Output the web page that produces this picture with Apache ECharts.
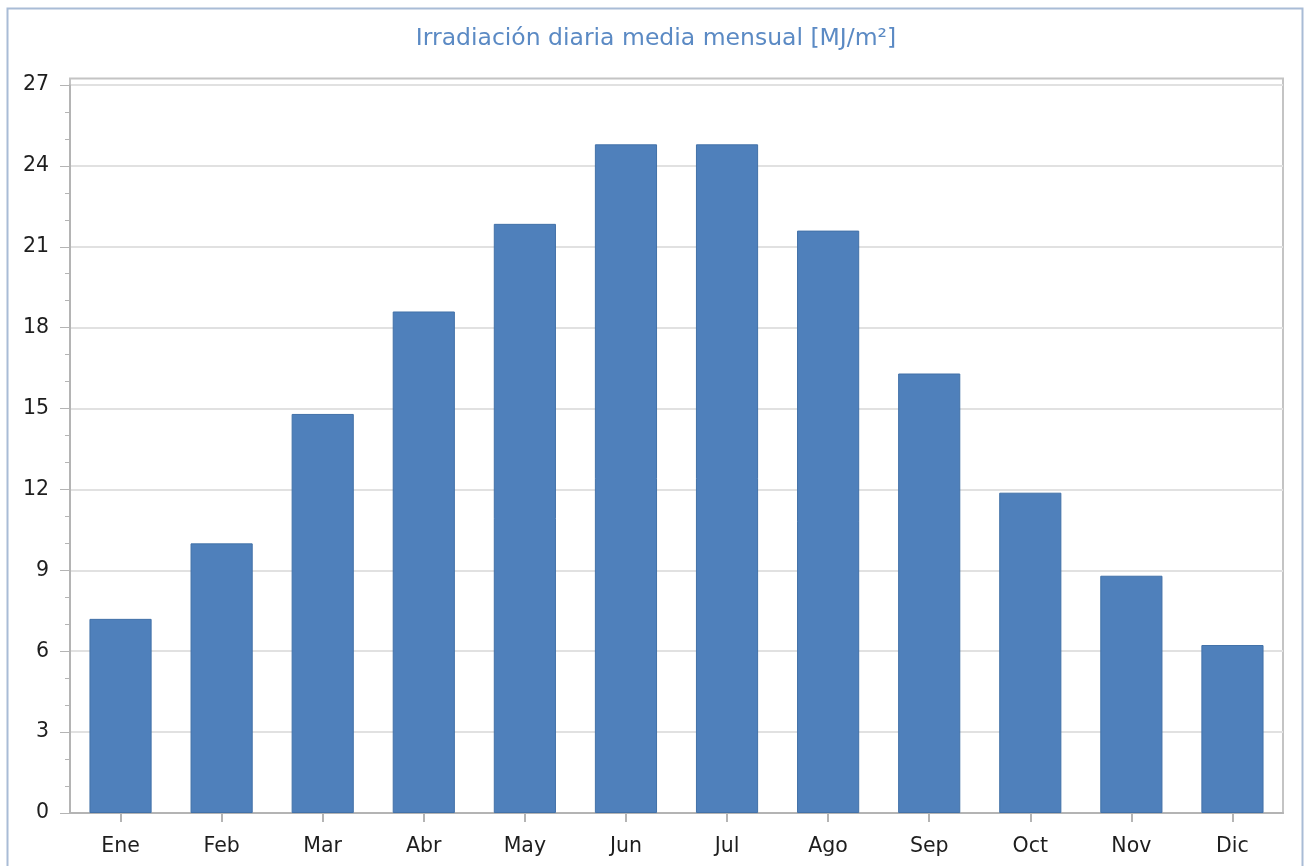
<!DOCTYPE html>
<html>
<head>
<meta charset="utf-8">
<script src="https://cdn.jsdelivr.net/npm/echarts@6/dist/echarts.min.js"></script>
<style>
  html, body { margin: 0; padding: 0; background: #ffffff; }
  #chart { width: 1312px; height: 866px; }
</style>
</head>
<body>
<div id="chart"></div>
<script>
// Monthly mean daily irradiation [MJ/m²]
const months = ['Ene', 'Feb', 'Mar', 'Abr', 'May', 'Jun', 'Jul', 'Ago', 'Sep', 'Oct', 'Nov', 'Dic'];
const irradiation = [7.2, 10.0, 14.8, 18.6, 21.85, 24.8, 24.8, 21.6, 16.3, 11.88, 8.8, 6.23];
const yTicks = [0, 3, 6, 9, 12, 15, 18, 21, 24, 27];

const chart = echarts.init(document.getElementById('chart'), null, { renderer: 'canvas' });

const labelFont = { fontFamily: 'DejaVu Sans', fontSize: 20.5, color: '#1e1e1e' };

chart.setOption({
  animation: false,
  backgroundColor: '#ffffff',
  title: {
    text: 'Irradiación diaria media mensual [MJ/m²]',
    left: 'center',
    top: 22,
    textStyle: { fontFamily: 'DejaVu Sans', fontSize: 23.5, fontWeight: 'normal', color: '#5b8ac4' }
  },
  grid: { left: 70, right: 29, top: 85, bottom: 53, containLabel: false },
  xAxis: {
    type: 'category',
    data: months,
    axisLine: { lineStyle: { color: '#b4b4b4', width: 2 } },
    axisTick: { show: true, alignWithLabel: true, length: 9, lineStyle: { color: '#b4b4b4', width: 2 } },
    axisLabel: Object.assign({ margin: 23 }, labelFont),
    splitLine: { show: false }
  },
  yAxis: {
    type: 'value',
    min: yTicks[0],
    max: yTicks[yTicks.length - 1],
    interval: 3,
    axisLine: { show: true, lineStyle: { color: '#b4b4b4', width: 2 } },
    axisTick: { show: true, length: 10, lineStyle: { color: '#b4b4b4', width: 1 } },
    minorTick: { show: true, splitNumber: 3, length: 5, lineStyle: { color: '#b4b4b4', width: 1 } },
    axisLabel: Object.assign({ margin: 21 }, labelFont),
    splitLine: { show: true, lineStyle: { color: '#e1e1e1', width: 2 } }
  },
  series: [{
    type: 'bar',
    data: irradiation,
    barWidth: '61.5%',
    itemStyle: { color: '#4f80bb', borderColor: '#4271a8', borderWidth: 1 }
  }],
  graphic: [
    // outer chart frame
    {
      type: 'rect', z: 0, silent: true,
      shape: { x: 7.5, y: 8.5, width: 1295, height: 870 },
      style: { fill: 'none', stroke: '#a9bcd6', lineWidth: 2 }
    },
    // plot area frame
    {
      type: 'rect', z: 0, silent: true,
      shape: { x: 70, y: 78.5, width: 1213, height: 734.5 },
      style: { fill: 'none', stroke: '#c4c4c4', lineWidth: 2 }
    }
  ]
});
</script>
</body>
</html>
